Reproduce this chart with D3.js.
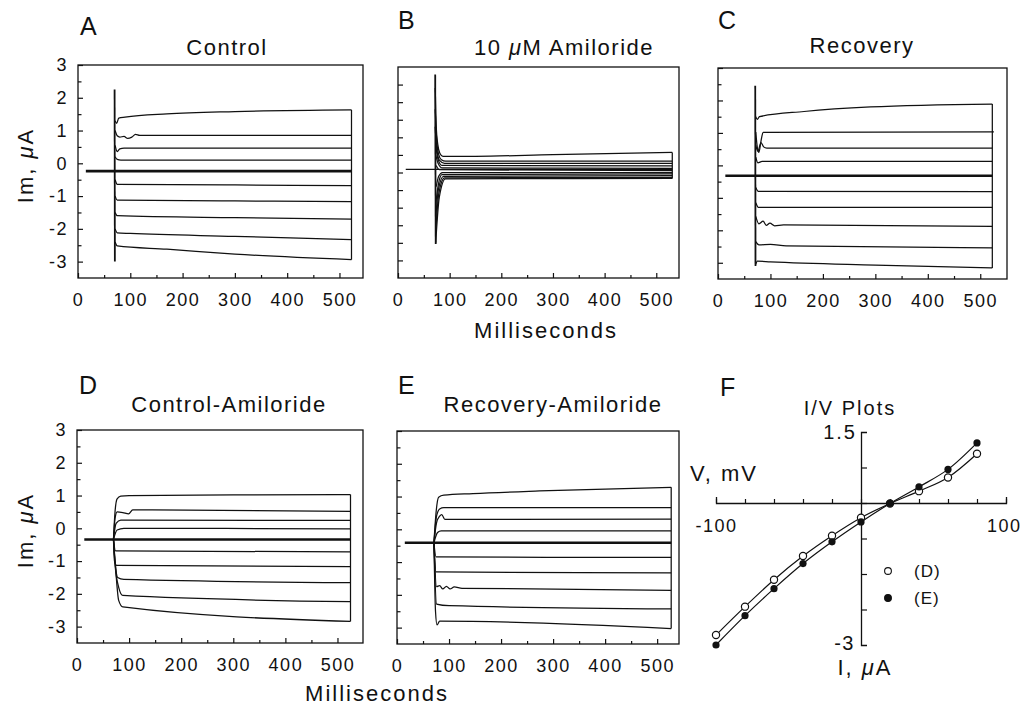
<!DOCTYPE html>
<html>
<head>
<meta charset="utf-8">
<script src="https://cdn.jsdelivr.net/npm/d3@7"></script>
<style>
  body { margin: 0; background: #fff; }
  svg { display: block; }
  text { font-family: "Liberation Sans", Arial, Helvetica, sans-serif; fill: #111; }
</style>
</head>
<body>
<script>
// tick labels
const msTicks = [0, 100, 200, 300, 400, 500];
const msMinor = [50, 150, 250, 350, 450];
const imTicks = [3, 2, 1, 0, -1, -2, -3];
const imMinor = [2.5, 1.5, 0.5, -0.5, -1.5, -2.5];
const amilTicks = [2.5, 2, 1.5, 1, 0.5, 0, -0.5, -1, -1.5, -2, -2.5];

// A: control, [ms, uA]
const ctrlHold = [[15, -0.24], [523, -0.24]];
const ctrlSpike = [[70, 2.25], [70.5, -3.0]];
const ctrlSteps = [
  [[71, 1.30], [74, 1.22], [78, 1.38], [90, 1.41], [170, 1.51], [300, 1.58], [523, 1.63]],
  [[71, 1.00], [75, 0.84], [80, 0.80], [88, 0.82], [95, 0.76], [103, 0.80], [110, 0.88], [118, 0.85], [523, 0.85]],
  [[71, 0.55], [75, 0.36], [80, 0.44], [88, 0.46], [523, 0.46]],
  [[71, 0.20], [75, 0.12], [82, 0.10], [523, 0.10]],
  [[71, -0.50], [75, -0.64], [300, -0.66], [523, -0.68]],
  [[71, -1.00], [75, -1.12], [300, -1.15], [523, -1.17]],
  [[71, -1.50], [75, -1.60], [300, -1.66], [523, -1.70]],
  [[71, -2.00], [75, -2.12], [100, -2.14], [300, -2.23], [523, -2.33]],
  [[71, -2.40], [75, -2.52], [170, -2.62], [300, -2.77], [523, -2.94]]
];

// B: 10 uM amiloride
const amilHold = [[15, 0.09], [531, 0.09]];
const amilSpike = [[72, 2.79], [73, -2.03]];
const amilSteps = [
  [[72, 2.4], [74, 1.3], [77, 0.80], [81, 0.55], [87, 0.46], [150, 0.46], [300, 0.51], [531, 0.57]],
  [[72, 1.8], [75, 0.9], [79, 0.50], [84, 0.36], [92, 0.32], [531, 0.32]],
  [[72, 1.3], [75, 0.7], [80, 0.35], [90, 0.26], [531, 0.26]],
  [[73, 0.8], [77, 0.40], [85, 0.20], [531, 0.19]],
  [[73, 0.5], [78, 0.25], [86, 0.13], [531, 0.12]],
  [[74, 0.2], [80, 0.08], [531, 0.05]],
  [[74, -0.4], [79, -0.10], [86, 0.0], [531, 0.0]],
  [[73, -0.9], [78, -0.35], [85, -0.06], [531, -0.04]],
  [[73, -1.3], [78, -0.50], [88, -0.11], [531, -0.09]],
  [[73, -1.7], [79, -0.60], [90, -0.15], [531, -0.14]],
  [[73, -2.0], [80, -0.70], [92, -0.18], [531, -0.17]]
];

// C: recovery
const recovHold = [[14, -0.32], [523, -0.32]];
const recovSpike = [[71, 2.45], [71.5, -3.1]];
const recovSteps = [
  [[72, 1.50], [75, 1.42], [79, 1.50], [164, 1.66], [291, 1.80], [523, 1.89]],
  [[72, 1.03], [75, 0.55], [78, 0.40], [82, 0.75], [86, 1.02], [526, 1.03]],
  [[72, 0.62], [76, 0.44], [82, 0.70], [87, 0.57], [93, 0.53], [523, 0.53]],
  [[72, 0.25], [76, 0.08], [84, 0.12], [523, 0.12]],
  [[72, -0.68], [77, -0.80], [523, -0.81]],
  [[72, -1.15], [77, -1.29], [523, -1.29]],
  [[72, -1.57], [78, -1.80], [86, -1.72], [92, -1.85], [99, -1.78], [108, -1.86], [125, -1.83], [523, -1.88]],
  [[72, -2.35], [78, -2.45], [100, -2.43], [130, -2.48], [523, -2.54]],
  [[72, -3.05], [75, -2.95], [100, -2.97], [300, -3.07], [523, -3.16]]
];

// D: control - amiloride
const ctrlAmilHold = [[14, -0.34], [525, -0.34]];
const ctrlAmilSteps = [
  [[70, -0.34], [73, 0.5], [77, 0.90], [84, 0.98], [100, 1.00], [300, 1.02], [525, 1.03]],
  [[70, -0.34], [73, 0.3], [77, 0.50], [88, 0.48], [99, 0.44], [107, 0.56], [525, 0.52]],
  [[70, -0.34], [75, 0.15], [84, 0.25], [525, 0.24]],
  [[70, -0.34], [77, -0.05], [90, 0.0], [525, -0.02]],
  [[70, -0.34], [74, -0.69], [525, -0.72]],
  [[70, -0.34], [72, -1.00], [76, -1.13], [525, -1.17]],
  [[70, -0.34], [73, -1.00], [78, -1.50], [90, -1.56], [525, -1.66]],
  [[70, -0.34], [73, -1.10], [80, -1.80], [88, -2.05], [525, -2.24]],
  [[70, -0.34], [74, -1.20], [80, -2.20], [88, -2.40], [525, -2.84]]
];

// E: recovery - amiloride
const recovAmilHold = [[15, -0.41], [527, -0.41]];
const recovAmilSteps = [
  [[71, -0.41], [75, 0.50], [80, 0.98], [90, 1.04], [146, 1.09], [274, 1.17], [527, 1.28]],
  [[71, -0.41], [76, 0.40], [82, 0.62], [90, 0.66], [527, 0.66]],
  [[71, -0.41], [76, 0.20], [82, 0.40], [86, 0.45], [92, 0.30], [527, 0.31]],
  [[71, -0.41], [78, -0.10], [85, -0.05], [527, -0.05]],
  [[71, -0.41], [75, -0.84], [527, -0.86]],
  [[71, -0.41], [75, -1.30], [527, -1.33]],
  [[71, -0.41], [76, -1.75], [82, -1.72], [88, -1.82], [95, -1.74], [102, -1.82], [110, -1.76], [125, -1.80], [527, -1.86]],
  [[71, -0.41], [76, -2.28], [100, -2.33], [527, -2.43]],
  [[71, -0.41], [74, -2.50], [77, -2.92], [82, -2.80], [527, -3.03]]
];

// F: I/V plots
const ivVolts = [-100, -80, -60, -40, -20, 0, 20, 40, 60, 80];
const ivD = [-2.79, -2.19, -1.62, -1.12, -0.69, -0.31, -0.01, 0.25, 0.54, 1.04];
const ivE = [-3.00, -2.38, -1.81, -1.28, -0.82, -0.40, -0.01, 0.34, 0.71, 1.27];
const ivNames = ["(D)", "(E)"];

const svg = d3.select("body").append("svg")
  .attr("width", 1021)
  .attr("height", 705);
svg.append("rect").attr("width", 1021).attr("height", 705).attr("fill", "#fff");

const panels = [
  {letter: "A", lx: 80, ly: 35, title: "Control", tx: 227, ty: 55, steps: ctrlSteps, hold: ctrlHold, spike: ctrlSpike,
   left: 78, right: 363, top: 65, bottom: 278, xMax: 545, yDom: [-3.5, 3], major: imTicks, minor: imMinor, yLabels: true, holdW: 2.6},
  {letter: "B", lx: 398, ly: 29, title: "10 \u03bcM Amiloride", tx: 564, ty: 55, steps: amilSteps, hold: amilHold, spike: amilSpike,
   left: 398, right: 679, top: 67, bottom: 278, xMax: 544, yDom: [-3, 3], major: amilTicks, minor: [], yLabels: false, holdW: 1.3},
  {letter: "C", lx: 718, ly: 29, title: "Recovery", tx: 862, ty: 53, steps: recovSteps, hold: recovHold, spike: recovSpike,
   left: 718, right: 1007, top: 68, bottom: 279, xMax: 551, yDom: [-3.5, 3], major: imTicks, minor: imMinor, yLabels: false, holdW: 2.4},
  {letter: "D", lx: 79, ly: 394, title: "Control-Amiloride", tx: 229, ty: 412, steps: ctrlAmilSteps, hold: ctrlAmilHold, spike: null,
   left: 77, right: 363, top: 430, bottom: 643, xMax: 549, yDom: [-3.5, 3], major: imTicks, minor: imMinor, yLabels: true, holdW: 2.4},
  {letter: "E", lx: 398, ly: 394, title: "Recovery-Amiloride", tx: 553, ty: 412, steps: recovAmilSteps, hold: recovAmilHold, spike: null,
   left: 397, right: 679, top: 431, bottom: 644, xMax: 542, yDom: [-3.5, 3], major: imTicks, minor: imMinor, yLabels: false, holdW: 2.4}
];

function styleAxis(a, size) {
  a.attr("font-family", null).attr("font-size", size);
  a.selectAll("line").attr("stroke", "#111").attr("stroke-width", 1.2);
  a.selectAll("text").attr("fill", "#111").style("letter-spacing", "1.5px");
}

function muText(sel, before, after) {
  sel.append("tspan").text(before);
  sel.append("tspan").attr("font-style", "italic").text("\u03bc");
  sel.append("tspan").text(after);
}

panels.forEach(p => {
  const x = d3.scaleLinear().domain([0, p.xMax]).range([p.left, p.right]);
  const y = d3.scaleLinear().domain(p.yDom).range([p.bottom, p.top]);
  const g = svg.append("g");
  const smooth = d3.line().x(d => x(d[0])).y(d => y(d[1])).curve(d3.curveMonotoneX);
  const straight = d3.line().x(d => x(d[0])).y(d => y(d[1]));

  g.selectAll("path.step")
    .data(p.steps)
    .join("path")
    .attr("class", "step")
    .attr("d", smooth)
    .attr("fill", "none")
    .attr("stroke", "#111")
    .attr("stroke-width", 1.25);

  if (p.spike) {
    g.append("path").attr("d", straight(p.spike))
      .attr("fill", "none").attr("stroke", "#111").attr("stroke-width", 1.8);
  }

  // closing line where the pulse ends
  const ends = p.steps.map(s => s[s.length - 1]);
  const tEnd = d3.min(ends, e => e[0]);
  g.append("line")
    .attr("x1", x(tEnd)).attr("x2", x(tEnd))
    .attr("y1", y(d3.max(ends, e => e[1]))).attr("y2", y(d3.min(ends, e => e[1])))
    .attr("stroke", "#111").attr("stroke-width", 1.25);

  g.append("path").attr("d", straight(p.hold))
    .attr("fill", "none").attr("stroke", "#111").attr("stroke-width", p.holdW);

  g.append("rect")
    .attr("x", p.left).attr("y", p.top)
    .attr("width", p.right - p.left).attr("height", p.bottom - p.top)
    .attr("fill", "none").attr("stroke", "#111").attr("stroke-width", 1.3);

  g.append("g").attr("transform", `translate(0,${p.bottom})`)
    .call(d3.axisBottom(x).tickValues(msTicks).tickSize(-5).tickPadding(15).tickFormat(d => String(d)))
    .call(a => a.select(".domain").remove())
    .call(a => styleAxis(a, 18));
  g.append("g").attr("transform", `translate(0,${p.bottom})`)
    .call(d3.axisBottom(x).tickValues(msMinor).tickSize(-3).tickFormat(""))
    .call(a => a.select(".domain").remove())
    .call(a => styleAxis(a, 18));

  g.append("g").attr("transform", `translate(${p.left},0)`)
    .call(d3.axisLeft(y).tickValues(p.major).tickSize(-5).tickPadding(10)
      .tickFormat(d => p.yLabels ? String(d) : ""))
    .call(a => a.select(".domain").remove())
    .call(a => styleAxis(a, 18));
  g.append("g").attr("transform", `translate(${p.left},0)`)
    .call(d3.axisLeft(y).tickValues(p.minor).tickSize(-3.5).tickFormat(""))
    .call(a => a.select(".domain").remove())
    .call(a => styleAxis(a, 18));

  svg.append("text").attr("x", p.lx).attr("y", p.ly)
    .attr("font-size", 25).text(p.letter);
  const t = svg.append("text").attr("x", p.tx).attr("y", p.ty)
    .attr("text-anchor", "middle").attr("font-size", 22).style("letter-spacing", "1.5px");
  if (p.title.includes("\u03bc")) {
    const parts = p.title.split("\u03bc");
    muText(t, parts[0], parts[1]);
  } else {
    t.text(p.title);
  }

  if (p.yLabels) {
    const cy = (p.top + p.bottom) / 2 - 6;
    const yl = svg.append("text")
      .attr("transform", `translate(33,${cy}) rotate(-90)`)
      .attr("text-anchor", "middle").attr("font-size", 22).style("letter-spacing", "2px");
    muText(yl, "Im, ", "A");
  }
});

svg.append("text").attr("x", 546).attr("y", 338).attr("text-anchor", "middle")
  .attr("font-size", 22).style("letter-spacing", "2px").text("Milliseconds");
svg.append("text").attr("x", 377).attr("y", 701).attr("text-anchor", "middle")
  .attr("font-size", 22).style("letter-spacing", "2px").text("Milliseconds");

// F: I/V plots
const fx = d3.scaleLinear().domain([-100, 100]).range([716, 1006]);
const fy = d3.scaleLinear().domain([-3, 1.5]).range([645, 432]);
const fg = svg.append("g");

fg.append("g").attr("transform", `translate(0,${fy(0)})`)
  .call(d3.axisBottom(fx).tickValues(d3.range(-100, 101, 20)).tickSize(-4).tickSizeOuter(-6).tickPadding(16)
    .tickFormat(d => Math.abs(d) === 100 ? String(d) : ""))
  .call(a => styleAxis(a, 18))
  .call(a => a.selectAll(".tick text").filter(d => d === 100).attr("text-anchor", "end").attr("dx", 15))
  .call(a => a.select(".domain").attr("stroke", "#111").attr("stroke-width", 1.3));

fg.append("g").attr("transform", `translate(${fx(0)},0)`)
  .call(d3.axisRight(fy).tickValues([-2.25, -1.5, -0.75, 0, 0.75]).tickSize(6).tickSizeOuter(6).tickFormat(""))
  .call(a => styleAxis(a, 18))
  .call(a => a.select(".domain").attr("stroke", "#111").attr("stroke-width", 1.3));

fg.append("text").attr("x", fx(0) - 4).attr("y", fy(1.5) + 7).attr("text-anchor", "end")
  .attr("font-size", 20).style("letter-spacing", "2px").text("1.5");
fg.append("text").attr("x", fx(0) - 6).attr("y", fy(-3) + 5).attr("text-anchor", "end")
  .attr("font-size", 20).style("letter-spacing", "1.5px").text("-3");

const ivLine = d3.line().x((d, i) => fx(ivVolts[i])).y(d => fy(d)).curve(d3.curveCatmullRom);
[ivD, ivE].forEach(s => {
  fg.append("path").attr("d", ivLine(s)).attr("fill", "none")
    .attr("stroke", "#111").attr("stroke-width", 1.2);
});
fg.selectAll("circle.d").data(ivD).join("circle").attr("class", "d")
  .attr("cx", (d, i) => fx(ivVolts[i])).attr("cy", d => fy(d)).attr("r", 3.6)
  .attr("fill", "#fff").attr("stroke", "#111").attr("stroke-width", 1.2);
fg.selectAll("circle.e").data(ivE).join("circle").attr("class", "e")
  .attr("cx", (d, i) => fx(ivVolts[i])).attr("cy", d => fy(d)).attr("r", 3.6)
  .attr("fill", "#111");

// legend
ivNames.forEach((n, i) => {
  const ly = 571 + i * 27;
  fg.append("circle").attr("cx", 888).attr("cy", ly).attr("r", 3.4)
    .attr("fill", i === 0 ? "#fff" : "#111").attr("stroke", "#111").attr("stroke-width", 1.1);
  fg.append("text").attr("x", 914).attr("y", ly + 6).attr("font-size", 17)
    .style("letter-spacing", "1px").text(n);
});

svg.append("text").attr("x", 720).attr("y", 396).attr("font-size", 25).text("F");
svg.append("text").attr("x", 850).attr("y", 415).attr("text-anchor", "middle")
  .attr("font-size", 20).style("letter-spacing", "2px").text("I/V Plots");
svg.append("text").attr("x", 690).attr("y", 481).attr("font-size", 22)
  .style("letter-spacing", "2px").text("V, mV");
const il = svg.append("text").attr("x", 865).attr("y", 675).attr("text-anchor", "middle")
  .attr("font-size", 22).style("letter-spacing", "2px");
muText(il, "I, ", "A");
</script>
</body>
</html>
